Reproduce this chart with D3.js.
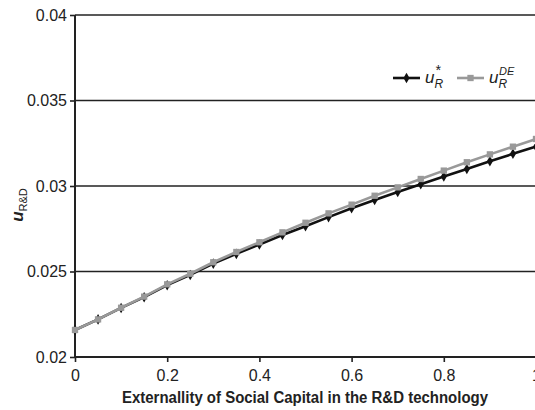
<!DOCTYPE html>
<html>
<head>
<meta charset="utf-8">
<script src="https://cdn.jsdelivr.net/npm/d3@7"></script>
<style>
body { margin:0; background:#fff; }
svg { display:block; }
text { font-family:"Liberation Sans Narrow","Arial Narrow","Liberation Sans",sans-serif; fill:#222; }
</style>
</head>
<body>
<div id="chart"></div>
<script>
(function(){

var width = 535,
	height = 410,
	margin = {left:75, right:-1, top:15, bottom:53};

// data
var xs = [0,0.05,0.1,0.15,0.2,0.25,0.3,0.35,0.4,0.45,0.5,0.55,0.6,0.65,0.7,0.75,0.8,0.85,0.9,0.95,1];
var uStar = [0.02158,0.0222,0.02287,0.0235,0.0242,0.0248,0.02546,0.02603,0.02658,0.02713,0.02765,
	0.02818,0.0287,0.02918,0.02965,0.0301,0.03055,0.031,0.03145,0.03188,0.0323];
var uDE = [0.02158,0.0222,0.02288,0.02353,0.02425,0.02487,0.02554,0.02614,0.02671,0.02729,0.02785,
	0.0284,0.02891,0.02943,0.02992,0.03041,0.0309,0.03139,0.03185,0.0323,0.03275];
var xTicks = [0,0.2,0.4,0.6,0.8,1];
var yTicks = [0.02,0.025,0.03,0.035,0.04];

var svg = d3.select("#chart").append("svg")
	.attr("width", width)
	.attr("height", height);

var X = d3.scaleLinear().domain([0,1]).range([margin.left, width - margin.right]);
var Y = d3.scaleLinear().domain([0.02,0.04]).range([height - margin.bottom, margin.top]);

// grid lines
svg.selectAll(".grid").data(yTicks.slice(1)).enter().append("line")
	.attr("class","grid")
	.attr("x1", X(0)).attr("x2", width)
	.attr("y1", function(d){return Y(d)}).attr("y2", function(d){return Y(d)})
	.style("stroke","#222").style("stroke-width",1.6);

// axes
var xAxis = d3.axisBottom(X).tickValues(xTicks).tickSize(5).tickPadding(5)
	.tickFormat(function(d){return d3.format("")(d)});
var yAxis = d3.axisLeft(Y).tickValues(yTicks).tickSize(5).tickPadding(3)
	.tickFormat(function(d){return d3.format("")(d)});

var gx = svg.append("g").attr("transform","translate(0,"+Y(0.02)+")").call(xAxis);
var gy = svg.append("g").attr("transform","translate("+X(0)+",0)").call(yAxis);

[gx,gy].forEach(function(g){
	g.select(".domain").remove();
	g.selectAll("line").style("stroke","#222").style("stroke-width",1.6);
	g.selectAll("text").style("font-size","16px").style("fill","#222")
		.style("font-family","'Liberation Sans Narrow','Arial Narrow',sans-serif");
});
gx.selectAll("text").attr("dy","0.9em");

svg.append("line").attr("x1",X(0)).attr("x2",width).attr("y1",Y(0.02)).attr("y2",Y(0.02))
	.style("stroke","#222").style("stroke-width",2);
svg.append("line").attr("x1",X(0)).attr("x2",X(0)).attr("y1",Y(0.02)).attr("y2",Y(0.04))
	.style("stroke","#222").style("stroke-width",2);

// series
var series = [
	{name:"star", vals:uStar, color:"#111", shape:d3.symbolDiamond, size:32},
	{name:"de", vals:uDE, color:"#999", shape:d3.symbolSquare, size:40}
];

var line = d3.line()
	.x(function(d){return X(d[0])})
	.y(function(d){return Y(d[1])});

series.forEach(function(s){
	var pts = xs.map(function(x,i){return [x, s.vals[i]]});
	svg.append("path").datum(pts)
		.attr("d", line)
		.style("fill","none").style("stroke",s.color).style("stroke-width",2.6);
	svg.selectAll(".pt-"+s.name).data(pts).enter().append("path")
		.attr("class","pt-"+s.name)
		.attr("transform",function(d){return "translate("+X(d[0])+","+Y(d[1])+")"})
		.attr("d", d3.symbol().type(s.shape).size(s.size))
		.style("fill",s.color);
});

// legend
var leg = svg.append("g").attr("transform","translate(0,78)");
var legItems = [
	{x:393, color:"#111", shape:d3.symbolDiamond, size:32, sup:"*"},
	{x:457, color:"#999", shape:d3.symbolSquare, size:40, sup:"DE"}
];
legItems.forEach(function(d){
	leg.append("line").attr("x1",d.x).attr("x2",d.x+27).attr("y1",0).attr("y2",0)
		.style("stroke",d.color).style("stroke-width",2.6);
	leg.append("path").attr("transform","translate("+(d.x+13.5)+",0)")
		.attr("d", d3.symbol().type(d.shape).size(d.size)).style("fill",d.color);
	var t = leg.append("text").attr("x",d.x+32).attr("y",5)
		.style("font-family","'Liberation Sans','Arial',sans-serif").style("font-style","italic").style("font-size","17px");
	t.append("tspan").text("u");
	t.append("tspan").attr("dy",5).style("font-size","12px").text("R");
	var sx = d.x + 42;
	leg.append("text").attr("x",sx).attr("y",-3)
		.style("font-family","'Liberation Sans','Arial',sans-serif").style("font-style","italic")
		.style("font-size", d.sup=="*" ? "14px" : "11px").text(d.sup);
});

// y axis title
var yt = svg.append("text").attr("transform","translate(23,205) rotate(-90)")
	.attr("text-anchor","middle")
	.style("font-family","'Liberation Sans','Arial',sans-serif").style("font-size","17px");
yt.append("tspan").style("font-style","italic").style("font-weight","bold").text("u");
yt.append("tspan").attr("dy",4).style("font-size","11px")
	.style("font-family","'Liberation Sans Narrow','Arial Narrow',sans-serif").text("R&D");

// x axis title
svg.append("text").attr("x",305).attr("y",403).attr("text-anchor","middle")
	.attr("textLength",366).attr("lengthAdjust","spacingAndGlyphs")
	.style("font-size","16px").style("font-weight","bold").style("fill","#222")
	.text("Externallity of Social Capital in the R&D technology");

})()
</script>
</body>
</html>
